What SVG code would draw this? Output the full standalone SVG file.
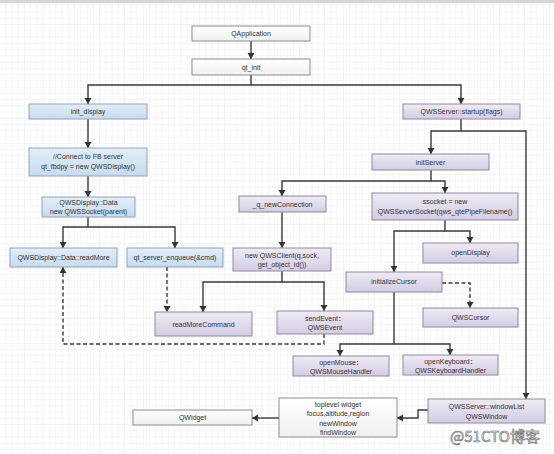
<svg xmlns="http://www.w3.org/2000/svg" width="554" height="454" viewBox="0 0 554 454">
<defs>
<pattern id="grid" x="0" y="0" width="6.25" height="6.25" patternUnits="userSpaceOnUse">
<path d="M6.25 0 V6.25 M0 6.25 H6.25" fill="none" stroke="#e6e6e6" stroke-width="0.8"/>
</pattern>
<linearGradient id="gBlue" x1="0" y1="0" x2="0" y2="1">
<stop offset="0" stop-color="#e3eef8"/><stop offset="1" stop-color="#c6dbee"/>
</linearGradient>
<linearGradient id="gPurple" x1="0" y1="0" x2="0" y2="1">
<stop offset="0" stop-color="#eeebf5"/><stop offset="1" stop-color="#d3cce3"/>
</linearGradient>
<linearGradient id="gWhite" x1="0" y1="0" x2="0" y2="1">
<stop offset="0" stop-color="#ffffff"/><stop offset="1" stop-color="#f0f0f0"/>
</linearGradient>
<marker id="arr" markerUnits="userSpaceOnUse" markerWidth="8" markerHeight="8" refX="6" refY="3.5" orient="auto">
<path d="M0 0 L6 3.5 L0 7 Z" fill="#333"/>
</marker>
<style>
.blue{fill:url(#gBlue);stroke:#8ea3b9;stroke-width:1}
.purple{fill:url(#gPurple);stroke:#8e899c;stroke-width:1}
.white{fill:url(#gWhite);stroke:#8c8c8c;stroke-width:1}
text{font-family:"Liberation Sans","Noto Sans CJK SC",sans-serif;font-size:7px;fill:#333;text-anchor:middle}
.c{fill:none;stroke:#3a3a3a;stroke-width:1.4;marker-end:url(#arr)}
.d{stroke-dasharray:4 2.5}
</style>
</defs>
<rect x="0" y="0" width="554" height="454" fill="#ffffff"/>
<rect x="0" y="0" width="554" height="454" fill="url(#grid)"/>
<rect x="0" y="0" width="554" height="3" fill="#d6d6d6"/>

<g id="connectors">
<path class="c" d="M251 41 V59"/>
<path class="c" d="M251 75 V85 H88 V104"/>
<path class="c" d="M251 85 H461 V104"/>
<path class="c" d="M88 119 V148"/>
<path class="c" d="M88 176 V197"/>
<path class="c" d="M88 217 V227 H63 V248"/>
<path class="c" d="M88 227 H175 V248"/>
<path class="c d" d="M167 267 V312"/>
<path class="c" d="M461 119 V131 H431 V154"/>
<path class="c" d="M461 131 H526 V399"/>
<path class="c" d="M431 170 V181 H282 V196"/>
<path class="c" d="M431 181 H445 V193"/>
<path class="c" d="M282 212 V248"/>
<path class="c" d="M282 271 V282 H203 V312"/>
<path class="c" d="M282 282 H324 V311"/>
<path class="c d" d="M324 334 V344 H63 V267"/>
<path class="c" d="M445 220 V231 H470 V243"/>
<path class="c" d="M445 231 H394 V272"/>
<path class="c d" d="M442 283 H470 V308"/>
<path class="c" d="M394 292 V344 H340 V356"/>
<path class="c" d="M394 344 H450 V355"/>
<path class="c" d="M428 410 H418 V418 H397"/>
<path class="c" d="M279 418 H252"/>
</g>

<g id="n-qapplication"><rect class="white" x="192" y="26" width="118" height="15"/><text x="251" y="36">QApplication</text></g>
<g id="n-qt_init"><rect class="white" x="192" y="59" width="118" height="16"/><text x="251" y="69.5">qt_init</text></g>
<g id="n-init_display"><rect class="blue" x="29" y="104" width="118" height="15"/><text x="88" y="114">init_display</text></g>
<g id="n-connect"><rect class="blue" x="29" y="148" width="118" height="28"/><text x="88" y="159">//Connect to FB server</text><text x="88" y="169">qt_fbdpy = new QWSDisplay()</text></g>
<g id="n-displaydata"><rect class="blue" x="42" y="197" width="93" height="20"/><text x="88.5" y="205">QWSDisplay::Data</text><text x="88.5" y="214">new QWSSocket(parent)</text></g>
<g id="n-readmore"><rect class="blue" x="10" y="248" width="107" height="19"/><text x="63.5" y="260">QWSDisplay::Data::readMore</text></g>
<g id="n-enqueue"><rect class="blue" x="127" y="248" width="96" height="19"/><text x="175" y="260">qt_server_enqueue(&amp;cmd)</text></g>
<g id="n-newconnection"><rect class="purple" x="239" y="196" width="87" height="16"/><text x="282.5" y="206.5">_q_newConnection</text></g>
<g id="n-qwsclient"><rect class="purple" x="233" y="248" width="98" height="23"/><text x="282" y="257.5">new QWSClient(q,sock,</text><text x="282" y="267">get_object_id())</text></g>
<g id="n-readmorecommand"><rect class="purple" x="155" y="312" width="97" height="24"/><text x="203.5" y="326.5">readMoreCommand</text></g>
<g id="n-sendevent"><rect class="purple" x="277" y="311" width="96" height="23"/><text x="325" y="320.5">sendEvent：</text><text x="325" y="330">QWSEvent</text></g>
<g id="n-startup"><rect class="purple" x="403" y="104" width="117" height="15"/><text x="461.5" y="114">QWSServer::startup(flags)</text></g>
<g id="n-initserver"><rect class="purple" x="372" y="154" width="117" height="16"/><text x="430.5" y="164.5">initServer</text></g>
<g id="n-ssocket"><rect class="purple" x="372" y="193" width="146" height="27"/><text x="445" y="204">ssocket = new</text><text x="445" y="214">QWSServerSocket(qws_qtePipeFilename()</text></g>
<g id="n-opendisplay"><rect class="purple" x="423" y="243" width="95" height="20"/><text x="470.5" y="255">openDisplay</text></g>
<g id="n-initializecursor"><rect class="purple" x="346" y="272" width="96" height="20"/><text x="394" y="284">initializeCursor</text></g>
<g id="n-qwscursor"><rect class="purple" x="423" y="308" width="95" height="19"/><text x="470.5" y="319.5">QWSCursor</text></g>
<g id="n-openmouse"><rect class="purple" x="293" y="356" width="96" height="20"/><text x="341" y="364.5">openMouse：</text><text x="341" y="373.5">QWSMouseHandler</text></g>
<g id="n-openkeyboard"><rect class="purple" x="403" y="355" width="95" height="20"/><text x="450.5" y="363.5">openKeyboard：</text><text x="450.5" y="372.5">QWSKeyboardHandler</text></g>
<g id="n-windowlist"><rect class="purple" x="428" y="399" width="117" height="24"/><text x="486.5" y="409">QWSServer::windowList</text><text x="486.5" y="419">QWSWindow</text></g>
<g id="n-toplevel"><rect class="white" x="279" y="398" width="118" height="39"/><text x="338" y="406.5">toplevel widget</text><text x="338" y="416">focus,altitude,region</text><text x="338" y="425.5">newWindow</text><text x="338" y="435">findWindow</text></g>
<g id="n-qwidget"><rect class="white" x="133" y="410" width="119" height="15"/><text x="192.5" y="420">QWidget</text></g>

<text x="495" y="442" style="font-family:'Noto Sans CJK SC','Liberation Sans',sans-serif;font-size:15px;fill:#ffffff;stroke:#7a7a7a;stroke-width:0.7">@51CTO博客</text>
</svg>
